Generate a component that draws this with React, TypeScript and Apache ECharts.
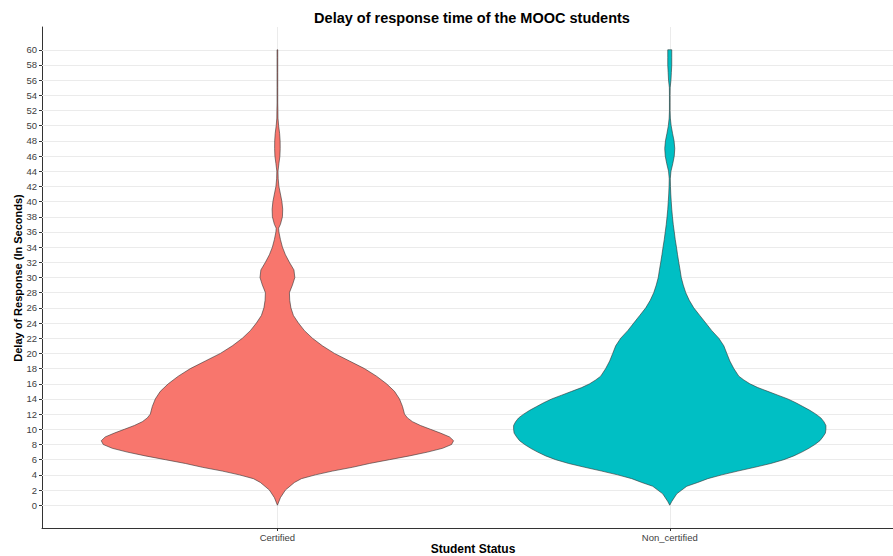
import React, { useEffect, useRef } from "react";
import * as echarts from "echarts";

// ---- data ----
const categories = ["Certified", "Non_certified"];
const categoryPos = [1, 2];
const fillColors = ["#F8766D", "#00BFC4"];
const yTicks = [0, 2, 4, 6, 8, 10, 12, 14, 16, 18, 20, 22, 24, 26, 28, 30, 32, 34, 36, 38, 40, 42, 44, 46, 48, 50, 52, 54, 56, 58, 60];

// violin half-widths (in category units) at given response delays (seconds)
const certY = [0, 1, 2, 3, 3.5, 4, 4.5, 5, 5.5, 6, 6.5, 7, 7.5, 8, 8.5, 9, 9.5, 10, 10.5, 11, 11.5, 12,
  13, 14, 15, 16, 17, 18, 19, 20, 21, 22, 23, 24, 25, 26, 27, 28, 28.5,
  29, 30, 31, 32, 33, 34, 35, 36, 36.5,
  37, 38, 39, 40, 41, 42, 43, 44, 45, 46, 47, 48, 49, 50, 51, 52,
  53, 54, 55, 56, 57, 58, 59, 60];
const certW = [0, 0.0077, 0.0204, 0.0434, 0.0612, 0.0969, 0.1403, 0.1913, 0.2347, 0.2857, 0.3367, 0.3827, 0.4209, 0.4439, 0.449, 0.4388, 0.4158, 0.3903, 0.3648, 0.3444, 0.3316, 0.324,
  0.3189, 0.3112, 0.2985, 0.2781, 0.2526, 0.2219, 0.1837, 0.1454, 0.1148, 0.0893, 0.0689, 0.0536, 0.0408, 0.0344, 0.0314, 0.0306, 0.0344,
  0.0383, 0.0444, 0.0421, 0.0306, 0.0204, 0.0128, 0.0077, 0.0038, 0.0031,
  0.0077, 0.0128, 0.0135, 0.0115, 0.0077, 0.0038, 0.002, 0.0015, 0.0038, 0.0064, 0.0071, 0.0069, 0.0056, 0.0031, 0.0015, 0.0013,
  0.0009, 0.0009, 0.0009, 0.0009, 0.0009, 0.0009, 0.0009, 0.0009];

const nonY = [0, 0.5, 1, 1.5, 2, 2.5, 3, 3.5, 4, 4.5, 5, 5.5, 6, 6.5, 7, 7.5, 8, 8.5, 9, 9.5, 10, 10.5, 11, 11.5, 12, 12.5, 13, 13.5, 14, 14.5, 15, 15.5, 16, 16.5, 17,
  18, 19, 20, 21, 22, 23, 24, 25, 26, 27, 28, 29, 30, 31, 32, 33, 34, 35, 36, 37, 38, 39, 40, 41, 42, 43, 44, 45, 46, 47, 48, 49, 50, 51, 52, 53, 54, 55, 56, 57, 58, 59, 60];
const nonW = [0, 0.0051, 0.0115, 0.0179, 0.0306, 0.0434, 0.0714, 0.0969, 0.1327, 0.1735, 0.2168, 0.2577, 0.2908, 0.3163, 0.3367, 0.3546, 0.3699, 0.3827, 0.3903, 0.3967, 0.398, 0.398, 0.3929, 0.3852, 0.3724, 0.3571, 0.3393, 0.3214, 0.301, 0.2755, 0.25, 0.2245, 0.2041, 0.1888, 0.176,
  0.1633, 0.1531, 0.1454, 0.1378, 0.125, 0.1071, 0.0918, 0.0765, 0.0612, 0.0497, 0.0408, 0.0344, 0.0293, 0.0263, 0.023, 0.0199, 0.0171, 0.014, 0.0115, 0.0089, 0.0069, 0.0051, 0.0038, 0.0026, 0.0018, 0.0013,
  0.0031, 0.0077, 0.0115, 0.0128, 0.011, 0.0071, 0.0036, 0.0015, 0.0008, 0.0008, 0.0008, 0.001, 0.0031, 0.0041, 0.0051, 0.0051, 0.0051];

const violins = [
  { x: categoryPos[0], y: certY, w: certW },
  { x: categoryPos[1], y: nonY, w: nonW },
];

const FONT = "'Liberation Sans', Arial, sans-serif";

export default function App() {
  const ref = useRef<HTMLDivElement>(null);

  useEffect(() => {
    document.body.style.margin = "0";
    if (!ref.current) return;
    const chart = echarts.init(ref.current, undefined, { renderer: "svg" });

    const option: any = {
      animation: false,
      backgroundColor: "#ffffff",
      grid: { left: 42, right: 0, top: 27, bottom: 28 },
      xAxis: {
        type: "value",
        min: 0.4,
        max: 2.569,
        axisLine: { show: true, onZero: false, lineStyle: { color: "#333333", width: 1 } },
        axisTick: { show: true, customValues: categoryPos, length: 3, lineStyle: { color: "#333333" } },
        axisLabel: {
          customValues: categoryPos,
          formatter: (v: number) => categories[categoryPos.indexOf(v)] ?? "",
          color: "#404040",
          fontSize: 9.5,
          fontFamily: FONT,
          margin: 4,
        },
        splitLine: { show: false },
      },
      yAxis: {
        type: "value",
        min: -3,
        max: 63,
        axisLine: { show: true, onZero: false, lineStyle: { color: "#333333", width: 1 } },
        axisTick: { show: true, customValues: yTicks, length: 3, lineStyle: { color: "#333333" } },
        axisLabel: {
          customValues: yTicks,
          color: "#404040",
          fontSize: 9.5,
          fontFamily: FONT,
          margin: 5,
        },
        splitLine: { show: false },
      },
      graphic: [
        {
          type: "text",
          x: 472,
          y: 18,
          style: {
            text: "Delay of response time of the MOOC students",
            textAlign: "center",
            textVerticalAlign: "middle",
            font: `bold 14.5px ${FONT}`,
            fill: "#000000",
          },
        },
        {
          type: "text",
          x: 17.5,
          y: 278,
          rotation: Math.PI / 2,
          style: {
            text: "Delay of Response (In Seconds)",
            textAlign: "center",
            textVerticalAlign: "middle",
            font: `bold 11px ${FONT}`,
            fill: "#000000",
          },
        },
        {
          type: "text",
          x: 473,
          y: 549,
          style: {
            text: "Student Status",
            textAlign: "center",
            textVerticalAlign: "middle",
            font: `bold 12px ${FONT}`,
            fill: "#000000",
          },
        },
      ],
      series: [
        {
          type: "line",
          data: [],
          z: 1,
          silent: true,
          markLine: {
            silent: true,
            symbol: ["none", "none"],
            label: { show: false },
            lineStyle: { color: "#ebebeb", width: 1, type: "solid" },
            data: [
              ...yTicks.map((v) => ({ yAxis: v })),
              ...categoryPos.map((v) => ({ xAxis: v })),
            ],
          },
        },
        {
          type: "custom",
          z: 5,
          data: violins.map((v) => [v.x, 0]),
          encode: { x: 0, y: 1 },
          renderItem: (params: any, api: any) => {
            const v = violins[params.dataIndex];
            const n = Math.min(v.y.length, v.w.length);
            const left: number[][] = [];
            const right: number[][] = [];
            for (let i = 0; i < n; i++) {
              left.push(api.coord([v.x - v.w[i], v.y[i]]));
              right.push(api.coord([v.x + v.w[i], v.y[i]]));
            }
            right.reverse();
            return {
              type: "polygon",
              shape: { points: left.concat(right) },
              style: {
                fill: fillColors[params.dataIndex],
                stroke: "#333333",
                lineWidth: 0.6,
              },
            };
          },
        },
      ],
    };

    chart.setOption(option);
    return () => chart.dispose();
  }, []);

  return <div ref={ref} style={{ width: 893, height: 556 }} />;
}
